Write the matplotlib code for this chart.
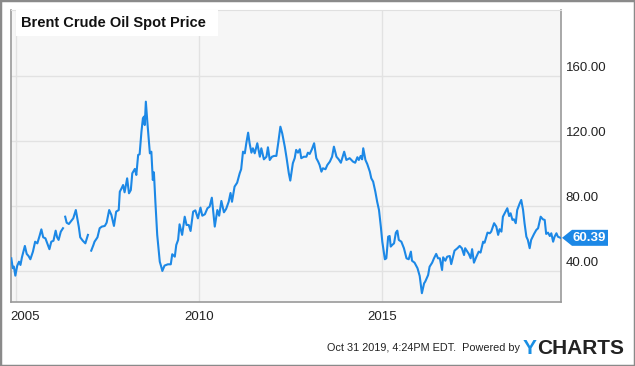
import numpy as np
import matplotlib.pyplot as plt
from matplotlib.patches import Rectangle, Polygon

# Brent spot price (decimal year, USD)
years = [
    2004.88, 2004.92, 2004.95, 2004.99, 2005.04, 2005.09, 2005.13, 2005.17, 2005.25, 2005.30,
    2005.35, 2005.40, 2005.47, 2005.53, 2005.59, 2005.65, 2005.70, 2005.75, 2005.81, 2005.86,
    2005.92, 2005.97, 2006.03, 2006.09, 2006.13, 2006.17, 2006.23, 2006.29, 2006.31,
    2006.35, 2006.39, 2006.45, 2006.52, 2006.57, 2006.64, 2006.68, 2006.72, 2006.76, 2006.83,
    2006.90, 2006.97, 2006.99,
    2007.06, 2007.12, 2007.15, 2007.23, 2007.29, 2007.35, 2007.43, 2007.48, 2007.55, 2007.61,
    2007.68, 2007.74, 2007.81, 2007.84, 2007.88, 2007.93, 2007.97, 2008.04, 2008.09, 2008.14,
    2008.18, 2008.25, 2008.29, 2008.34, 2008.38, 2008.43, 2008.47, 2008.50, 2008.52, 2008.55,
    2008.59, 2008.66, 2008.70, 2008.74, 2008.77, 2008.81, 2008.86, 2008.93, 2008.97, 2009.00,
    2009.06, 2009.15, 2009.23, 2009.27, 2009.34, 2009.38, 2009.43, 2009.47, 2009.54, 2009.61,
    2009.66, 2009.72, 2009.77, 2009.84, 2009.90, 2009.97, 2010.04, 2010.09, 2010.16, 2010.23,
    2010.29, 2010.35, 2010.43, 2010.50, 2010.55, 2010.61, 2010.68, 2010.74, 2010.81, 2010.86,
    2010.90, 2010.97, 2011.04, 2011.11, 2011.15, 2011.20, 2011.25, 2011.29, 2011.34, 2011.38,
    2011.43, 2011.47, 2011.52, 2011.59, 2011.66, 2011.70, 2011.77, 2011.84, 2011.88, 2011.93,
    2011.99, 2012.05, 2012.11, 2012.16, 2012.22, 2012.27, 2012.34, 2012.39, 2012.45, 2012.49,
    2012.56, 2012.61, 2012.65, 2012.70, 2012.75, 2012.79, 2012.86, 2012.93, 2012.97, 2013.02,
    2013.08, 2013.14, 2013.20, 2013.25, 2013.29, 2013.34, 2013.38, 2013.45, 2013.50, 2013.57,
    2013.63, 2013.68, 2013.75, 2013.81, 2013.87, 2013.96, 2014.02, 2014.11, 2014.20, 2014.26,
    2014.32, 2014.36, 2014.41, 2014.45, 2014.48, 2014.54, 2014.59, 2014.66, 2014.70, 2014.75,
    2014.81, 2014.86, 2014.91, 2014.96, 2015.00, 2015.07, 2015.11, 2015.16, 2015.20, 2015.23,
    2015.27, 2015.32, 2015.37, 2015.41, 2015.45, 2015.52, 2015.59, 2015.66, 2015.72, 2015.78,
    2015.81, 2015.88, 2015.96, 2016.02, 2016.08, 2016.14, 2016.17, 2016.25, 2016.29, 2016.36,
    2016.41, 2016.47, 2016.52, 2016.57, 2016.63, 2016.66, 2016.72, 2016.77, 2016.84, 2016.88,
    2016.93, 2016.97, 2017.05, 2017.11, 2017.17, 2017.23, 2017.26, 2017.32, 2017.36, 2017.41,
    2017.45, 2017.50, 2017.56, 2017.63, 2017.68, 2017.75, 2017.79, 2017.87, 2017.93, 2017.97,
    2018.05, 2018.11, 2018.16, 2018.20, 2018.25, 2018.29, 2018.36, 2018.41, 2018.46, 2018.50,
    2018.55, 2018.59, 2018.64, 2018.68, 2018.75, 2018.79, 2018.84, 2018.88, 2018.93, 2018.97,
    2019.02, 2019.06, 2019.14, 2019.20, 2019.25, 2019.32, 2019.38, 2019.43, 2019.47, 2019.52,
    2019.57, 2019.61, 2019.66, 2019.70, 2019.75, 2019.79, 2019.86,
]
prices = [
    47.8, 41.7, 42.7, 37.1, 43.1, 45.7, 43.7, 48.4, 55.4, 50.5,
    49.2, 47.2, 51.9, 58.0, 57.0, 61.5, 65.6, 60.7, 60.1, 57.0,
    53.4, 58.0, 58.6, 64.8, 60.7, 59.1, 64.2, 66.3, np.nan,
    73.4, 69.7, 68.9, 71.0, 72.4, 77.5, 72.4, 67.3, 60.7, 58.6,
    57.0, 62.2, np.nan,
    52.5, 56.0, 58.0, 60.7, 66.3, 67.3, 67.7, 69.7, 77.5, 74.5,
    67.7, 76.5, 77.5, 88.8, 90.5, 92.9, 88.4, 97.0, 87.8, 89.8,
    100.1, 102.8, 99.1, 111.4, 111.8, 125.7, 134.0, 135.0, 129.8, 144.2,
    131.9, 112.4, 113.4, 96.0, 100.7, 82.6, 62.2, 45.7, 42.6, 40.0,
    43.3, 44.1, 44.1, 50.3, 48.8, 56.0, 59.1, 68.7, 62.2, 73.4,
    68.3, 68.3, 64.6, 76.5, 77.3, 72.4, 79.0, 74.0, 74.9, 78.6,
    79.6, 85.1, 67.3, 77.5, 74.0, 83.1, 76.1, 78.2, 82.6, 88.0,
    82.6, 91.9, 94.3, 100.1, 102.6, 113.4, 112.4, 118.6, 125.1, 118.6,
    112.8, 115.5, 112.4, 118.6, 110.3, 115.5, 108.7, 110.3, 116.1, 108.3,
    110.3, 110.8, 110.8, 118.6, 128.8, 124.7, 116.5, 109.4, 100.1, 95.6,
    106.3, 109.4, 114.5, 112.8, 114.9, 109.4, 110.3, 110.3, 112.8, 112.0,
    114.9, 118.6, 109.4, 107.3, 105.2, 101.1, 103.2, 102.6, 105.2, 107.3,
    110.3, 116.5, 110.3, 108.7, 106.6, 113.4, 108.3, 109.4, 107.3, 106.6,
    110.0, 108.3, 110.8, 108.7, 115.5, 108.3, 105.8, 101.1, 97.0, 95.0,
    88.8, 82.6, 77.5, 67.3, 58.0, 47.2, 47.8, 61.1, 61.5, 55.0,
    56.0, 57.0, 63.6, 64.8, 59.1, 58.0, 54.0, 47.8, 47.2, 51.9,
    46.3, 45.1, 41.7, 36.9, 26.3, 32.4, 33.4, 37.5, 42.6, 45.1,
    47.8, 50.5, 47.8, 47.8, 40.6, 48.4, 46.3, 48.8, 49.2, 44.2,
    48.8, 52.5, 54.0, 55.4, 54.0, 49.8, 54.0, 51.9, 50.5, 47.8,
    53.4, 45.1, 48.4, 51.9, 51.3, 58.0, 57.4, 63.6, 63.2, 64.2,
    69.4, 67.3, 62.2, 65.7, 64.2, 73.4, 76.5, 78.6, 73.8, 75.5,
    71.4, 71.8, 69.4, 77.5, 81.7, 83.7, 77.5, 69.4, 61.1, 59.1,
    54.0, 59.1, 62.8, 65.2, 66.3, 73.4, 71.8, 71.4, 62.8, 63.6,
    61.5, 63.2, 58.0, 61.1, 63.2, 61.1, 60.39,
]
last_label = "60.39"
y_ticks = [40, 80, 120, 160]
x_ticks = [2005, 2010, 2015]

line_color = "#1c88e6"
W, H = 635, 366

plt.rcParams["font.family"] = ["Liberation Sans", "DejaVu Sans"]
fig = plt.figure(figsize=(W / 100, H / 100), dpi=100)
fig.patch.set_facecolor("white")

# plot area in pixels: x 10.5..560.5, y 10..302 (from top)
ax = fig.add_axes([10.5 / W, (H - 302) / H, 550 / W, 292 / H])
ax.set_facecolor("#f6f6f6")
ax.plot(years, prices, color=line_color, lw=1.5, solid_joinstyle="round", zorder=3)
ax.set_xlim(2004.858, 2019.861)
ax.set_ylim(20.9, 200.6)

ax.set_xticks(x_ticks)
ax.set_yticks(y_ticks)
ax.grid(True, color="#e2e2e2", lw=1.0)
ax.tick_params(length=0, labelbottom=False, labelleft=False)
for side in ["left", "bottom", "right"]:
    ax.spines[side].set_color("#9a9a9a")
    ax.spines[side].set_linewidth(1.2)
ax.spines["top"].set_color("#e0e0e0")

# y labels on the right, sitting just above their gridline
ytr = ax.get_yaxis_transform()
for v in y_ticks:
    ax.text(1.0 + 5 / 550, v + 1.0, f"{v:.2f}", transform=ytr,
            ha="left", va="bottom", fontsize=9.5, color="#222222")

# x labels; the first one is kept inside the frame
xtr = ax.get_xaxis_transform()
for i, yr in enumerate(x_ticks):
    if i == 0:
        ax.text(2004.858, -0.03, str(yr), transform=xtr,
                ha="left", va="top", fontsize=9.5, color="#222222")
    else:
        ax.text(yr, -0.03, str(yr), transform=xtr,
                ha="center", va="top", fontsize=9.5, color="#222222")

# last value tag
last = prices[-1]
x0 = 1.0 + 1.5 / 550
w_tag = 46 / 550
h_tag = 16 / 292 * (200.6 - 20.9)
tag = Polygon([[x0, last], [x0 + 10 / 550, last + h_tag / 2], [x0 + w_tag, last + h_tag / 2],
               [x0 + w_tag, last - h_tag / 2], [x0 + 10 / 550, last - h_tag / 2]],
              closed=True, transform=ytr, facecolor=line_color, edgecolor="none",
              clip_on=False, zorder=4)
ax.add_patch(tag)
ax.text(x0 + 27 / 550, last, last_label, transform=ytr, ha="center", va="center",
        fontsize=9.5, color="white", fontweight="bold", zorder=5)

# title box
fig.patches.append(Rectangle((16 / W, (H - 36) / H), 202 / W, 26 / H, transform=fig.transFigure,
                             facecolor="white", edgecolor="none", zorder=5))
fig.text(21 / W, (H - 23) / H, "Brent Crude Oil Spot Price", ha="left", va="center",
         fontsize=10.5, fontweight="bold", color="#111111", zorder=6)

# footer
fig.text(520 / W, (H - 348) / H, "Oct 31 2019, 4:24PM EDT.  Powered by", ha="right", va="center",
         fontsize=7.8, color="#222222")
fig.text(523 / W, (H - 349) / H, "Y", ha="left", va="center", fontsize=15,
         fontweight="bold", color="#1a8fe3")
fig.text(537 / W, (H - 349) / H, "CHARTS", ha="left", va="center", fontsize=15,
         fontweight="bold", color="#222222")

# outer frame
fig.patches.append(Rectangle((0, 0), 1, 1, transform=fig.transFigure, fill=False,
                             edgecolor="#8a8a8a", lw=2.5, zorder=10))

fig.savefig("out.png", dpi=100)
